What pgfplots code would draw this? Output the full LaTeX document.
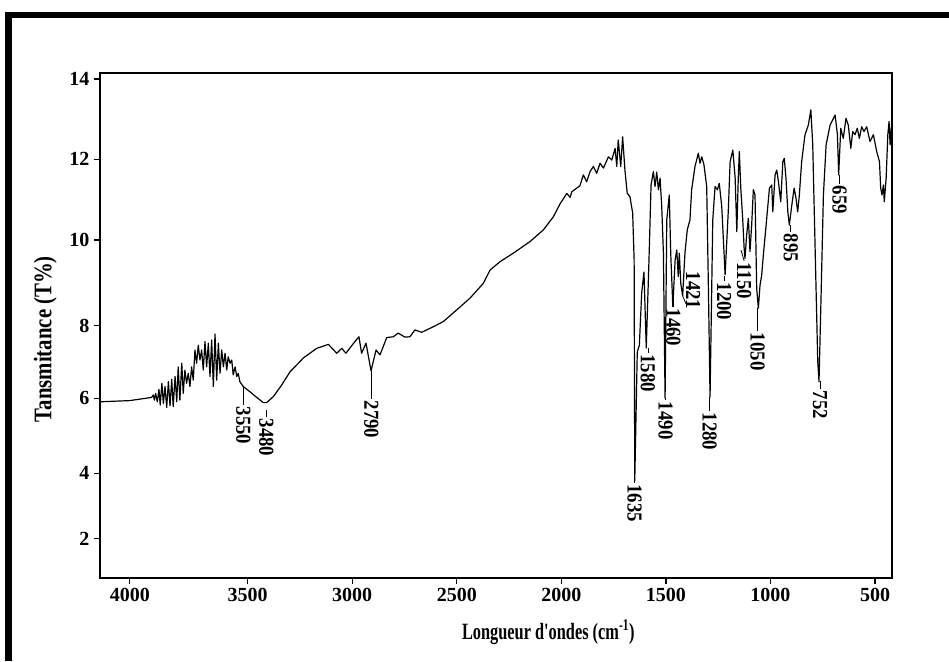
\documentclass[border=0pt]{standalone}
\usepackage{fontspec}
\setmainfont{Liberation Serif}
\usepackage{graphicx}
\usepackage{pgfplots}
\pgfplotsset{compat=1.18}
\newcommand{\pkfont}{\bfseries\fontsize{16}{16}\selectfont}
\newcommand{\pk}[4]{\draw[line width=0.6pt] (axis cs:#1,#2) -- (axis cs:#1,#3) node[rotate=-90,anchor=west,inner sep=1pt,font=\pkfont] {\scalebox{0.88}[1]{#4}};}
\begin{document}
\begin{tikzpicture}
\path[use as bounding box] (0pt,0pt) rectangle (711.75pt,495.75pt);
\fill[black] (3.75pt,0pt) rectangle (9pt,486.75pt);
\fill[black] (3.75pt,482.25pt) rectangle (711.75pt,486.75pt);
\begin{axis}[
  at={(75pt,62.475pt)}, anchor=south west, scale only axis,
  width=594pt, height=378.3pt,
  x dir=reverse, xmin=419, xmax=4206, ymin=1.58, ymax=14.14,
  axis line style={line width=1.4pt},
  xtick={4063,3500,3000,2500,2000,1500,1000,500},
  xticklabels={4000,3500,3000,2500,2000,1500,1000,500},
  ytick={2.55,4.18,6.05,7.86,9.99,12,14},
  yticklabels={2,4,6,8,10,12,14},
  tick align=outside, xtick pos=bottom, ytick pos=left,
  major tick length=4.5pt,
  tick style={line width=0.9pt, black},
  tick label style={font=\bfseries\fontsize{15}{15}\selectfont},
  xlabel={\scalebox{0.7}[1]{Longueur d\textquotesingle ondes (cm\textsuperscript{-1})}},
  ylabel={\scalebox{0.82}[1]{Tansmitance (T\%)}},
  xlabel style={font=\bfseries\fontsize{17.5}{17.5}\selectfont, at={(axis description cs:0.566,-0.108)}, anchor=center},
  ylabel style={font=\bfseries\fontsize{19}{19}\selectfont, at={(axis description cs:-0.069,0.473)}, anchor=center},
  clip=false]
\addplot[black, line width=0.9pt, line join=round] table {
4206 5.96
4063 5.99
3959 6.07
3951 6.13
3946 6.00
3940 6.17
3932 5.96
3924 6.27
3918 5.88
3910 6.42
3903 5.92
3895 6.34
3887 5.82
3879 6.46
3871 5.86
3863 6.52
3856 5.84
3847 6.59
3839 5.96
3832 6.83
3824 6.00
3815 6.92
3808 6.17
3800 6.75
3792 6.42
3784 6.67
3776 6.34
3768 6.83
3760 6.50
3752 7.25
3744 6.92
3736 7.37
3728 7.00
3720 7.25
3712 6.75
3704 7.46
3696 6.83
3688 7.42
3680 6.59
3672 7.50
3664 6.34
3656 7.65
3648 6.50
3640 7.42
3632 6.67
3624 7.25
3616 6.83
3608 7.17
3600 6.75
3593 7.08
3584 6.92
3576 7.00
3569 6.63
3560 6.83
3552 6.59
3545 6.67
3537 6.46
3521 6.34
3489 6.21
3457 6.07
3425 5.94
3409 5.94
3377 6.09
3337 6.38
3297 6.71
3250 6.96
3234 7.05
3170 7.29
3114 7.39
3074 7.17
3050 7.29
3030 7.17
2987 7.46
2968 7.58
2955 7.17
2934 7.42
2910 6.73
2886 7.25
2867 7.13
2835 7.56
2803 7.58
2780 7.67
2748 7.57
2724 7.58
2700 7.75
2668 7.69
2612 7.83
2564 7.96
2500 8.25
2437 8.54
2373 8.91
2341 9.24
2293 9.45
2230 9.66
2150 9.95
2086 10.24
2038 10.57
2006 10.89
1974 11.15
1958 11.05
1950 11.19
1911 11.34
1895 11.61
1879 11.44
1863 11.69
1847 11.82
1831 11.65
1815 11.90
1799 11.78
1775 12.06
1759 11.98
1743 12.27
1735 11.82
1728 12.48
1716 11.82
1707 12.56
1696 11.73
1685 11.15
1672 11.07
1659 10.66
1652 9.49
1649 3.99
1637 7.20
1627 7.37
1616 8.66
1605 9.19
1594 7.30
1581 9.49
1571 11.36
1560 11.69
1552 11.32
1544 11.68
1536 11.24
1528 11.53
1520 10.82
1512 9.66
1504 6.05
1496 10.49
1484 11.11
1477 9.66
1467 8.33
1456 9.49
1448 9.74
1441 9.08
1436 9.66
1429 8.91
1420 8.60
1409 9.66
1398 10.24
1385 10.49
1377 11.24
1361 11.82
1345 12.15
1337 11.90
1329 12.06
1318 11.86
1305 11.32
1297 8.83
1289 6.08
1276 10.49
1265 11.32
1254 11.24
1245 11.40
1233 10.82
1222 9.66
1217 9.12
1202 10.69
1193 11.94
1180 12.23
1169 11.53
1161 10.20
1154 11.53
1149 12.19
1142 11.28
1133 10.53
1126 9.78
1122 9.53
1114 10.11
1106 10.53
1098 9.70
1090 10.36
1082 11.24
1074 11.11
1066 8.79
1058 8.29
1050 8.87
1042 9.12
1034 9.62
1018 10.53
1005 11.28
994 11.36
989 10.69
978 11.61
970 11.73
962 11.44
951 10.94
941 11.94
934 12.02
926 11.53
917 10.69
910 10.36
898 10.86
887 11.28
878 11.03
870 10.69
862 11.11
851 11.94
835 12.61
819 12.85
807 13.23
798 12.36
787 9.87
774 6.96
768 6.46
758 8.62
747 11.11
734 12.36
715 12.85
691 13.10
680 12.61
674 11.61
664 12.77
652 12.52
639 13.02
628 12.85
616 12.27
607 12.69
596 12.61
585 12.77
575 12.52
564 12.81
553 12.69
540 12.81
524 12.44
508 12.61
492 12.19
479 11.94
473 11.28
467 11.11
460 11.36
456 10.94
447 11.53
439 12.61
433 12.94
428 12.36
420 12.94
};
\pk{3521}{6.35}{5.88}{3550}
\pk{3410}{5.76}{5.58}{3480}
\pk{2908}{6.73}{6.03}{2790}
\pk{1650}{3.99}{3.95}{1635}
\pk{1586}{7.30}{7.18}{1580}
\pk{1502}{6.05}{6.00}{1490}
\pk{1464}{8.50}{8.32}{1460}
\draw[line width=0.6pt] (axis cs:1420,8.60) -- (axis cs:1404,8.40);
\node[rotate=-90,anchor=west,inner sep=1pt,font=\pkfont] at (axis cs:1370,9.24) {\scalebox{0.88}[1]{1421}};
\pk{1291}{6.08}{5.73}{1280}
\pk{1222}{9.09}{8.97}{1200}
\draw[line width=0.6pt] (axis cs:1141,9.74) -- (axis cs:1126,9.47) node[rotate=-90,anchor=west,inner sep=1pt,font=\pkfont] {\scalebox{0.88}[1]{1150}};
\pk{1062}{8.30}{7.72}{1050}
\pk{903}{10.36}{10.19}{895}
\pk{670}{11.61}{11.38}{659}
\pk{763}{6.48}{6.28}{752}
\end{axis}
\end{tikzpicture}
\end{document}
